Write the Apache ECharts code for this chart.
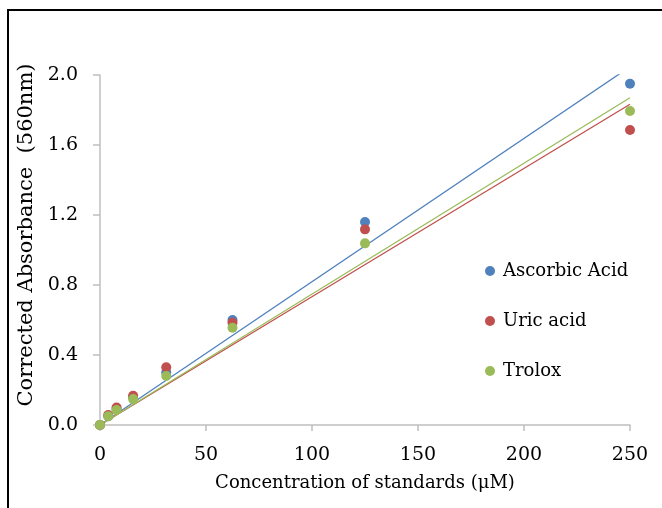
<!DOCTYPE html>
<html><head><meta charset="utf-8">
<script src="https://cdn.jsdelivr.net/npm/echarts@6/dist/echarts.min.js"></script>
<style>html,body{margin:0;padding:0;background:#fff}#c{width:662px;height:508px}</style>
</head><body><div id="c"></div>
<script>
var concentrations = [0, 3.90625, 7.8125, 15.625, 31.25, 62.5, 125, 250];
var ascorbic = [0, 0.05, 0.09, 0.16, 0.30, 0.60, 1.16, 1.95];
var uric = [0, 0.057, 0.10, 0.167, 0.33, 0.585, 1.118, 1.686];
var trolox = [0, 0.05, 0.086, 0.148, 0.28, 0.556, 1.038, 1.794];
var trendX = [0, 250];
var ascorbicTrend = [0, 2.047];
var uricTrend = [0, 1.833];
var troloxTrend = [0, 1.870];
var xTicks = [0, 50, 100, 150, 200, 250];
var yTicks = ['0.0', '0.4', '0.8', '1.2', '1.6', '2.0'];
var names = ['Ascorbic Acid', 'Uric acid', 'Trolox'];
var colors = ['#4F81BD', '#C0504D', '#9BBB59'];

function pairs(xs, ys) { return xs.map(function (x, i) { return [x, ys[i]]; }); }

var font = '"DejaVu Serif", serif';
var chart = echarts.init(document.getElementById('c'), null, {renderer: 'canvas'});
var lines = [ascorbicTrend, uricTrend, troloxTrend];
var pts = [ascorbic, uric, trolox];
var series = [];
lines.forEach(function (l, i) {
  series.push({type: 'line', data: pairs(trendX, l), symbol: 'none', clip: true, silent: true,
    lineStyle: {color: colors[i], width: 1.3}, z: 1});
});
pts.forEach(function (p, i) {
  series.push({type: 'scatter', name: names[i], data: pairs(concentrations, p), symbol: 'circle',
    symbolSize: 10, itemStyle: {color: colors[i], opacity: 1}, z: 3});
});
chart.setOption({
  animation: false,
  backgroundColor: '#fff',
  color: colors,
  graphic: [{type: 'rect', shape: {x: 8, y: 10, width: 700, height: 600},
    style: {fill: null, stroke: '#000', lineWidth: 2}, silent: true}],
  grid: {left: 100, right: 32, top: 75, bottom: 83},
  legend: {data: names, orient: 'vertical', left: 480, top: 257, itemGap: 32,
    icon: 'circle', itemWidth: 10, itemHeight: 10,
    textStyle: {fontFamily: font, fontSize: 18, color: '#000', padding: [0, 0, 0, 3]}},
  xAxis: {type: 'value', min: 0, max: 250, interval: 50,
    name: 'Concentration of standards (μM)', nameLocation: 'middle', nameGap: 49,
    nameTextStyle: {fontFamily: font, fontSize: 18, color: '#000'},
    axisLine: {lineStyle: {color: '#BFBFBF', width: 1.5}},
    axisTick: {show: true, length: 6, lineStyle: {color: '#BFBFBF', width: 1.5}},
    axisLabel: {fontFamily: font, fontSize: 19, color: '#000', margin: 21,
      formatter: function (v) { return xTicks.indexOf(v) >= 0 ? String(v) : ''; }},
    splitLine: {show: false}},
  yAxis: {type: 'value', min: 0, max: 2.0, interval: 0.4,
    name: 'Corrected Absorbance  (560nm)', nameLocation: 'middle', nameGap: 56,
    nameTextStyle: {fontFamily: font, fontSize: 21, color: '#000', padding: [0, 0, 0, 30]},
    axisLine: {show: true, lineStyle: {color: '#BFBFBF', width: 1.5}},
    axisTick: {show: true, length: 7, lineStyle: {color: '#BFBFBF', width: 1.5}},
    axisLabel: {fontFamily: font, fontSize: 19, color: '#000', margin: 22,
      formatter: function (v) { var s = v.toFixed(1); return yTicks.indexOf(s) >= 0 ? s : ''; }},
    splitLine: {show: false}},
  series: series
});
</script></body></html>
